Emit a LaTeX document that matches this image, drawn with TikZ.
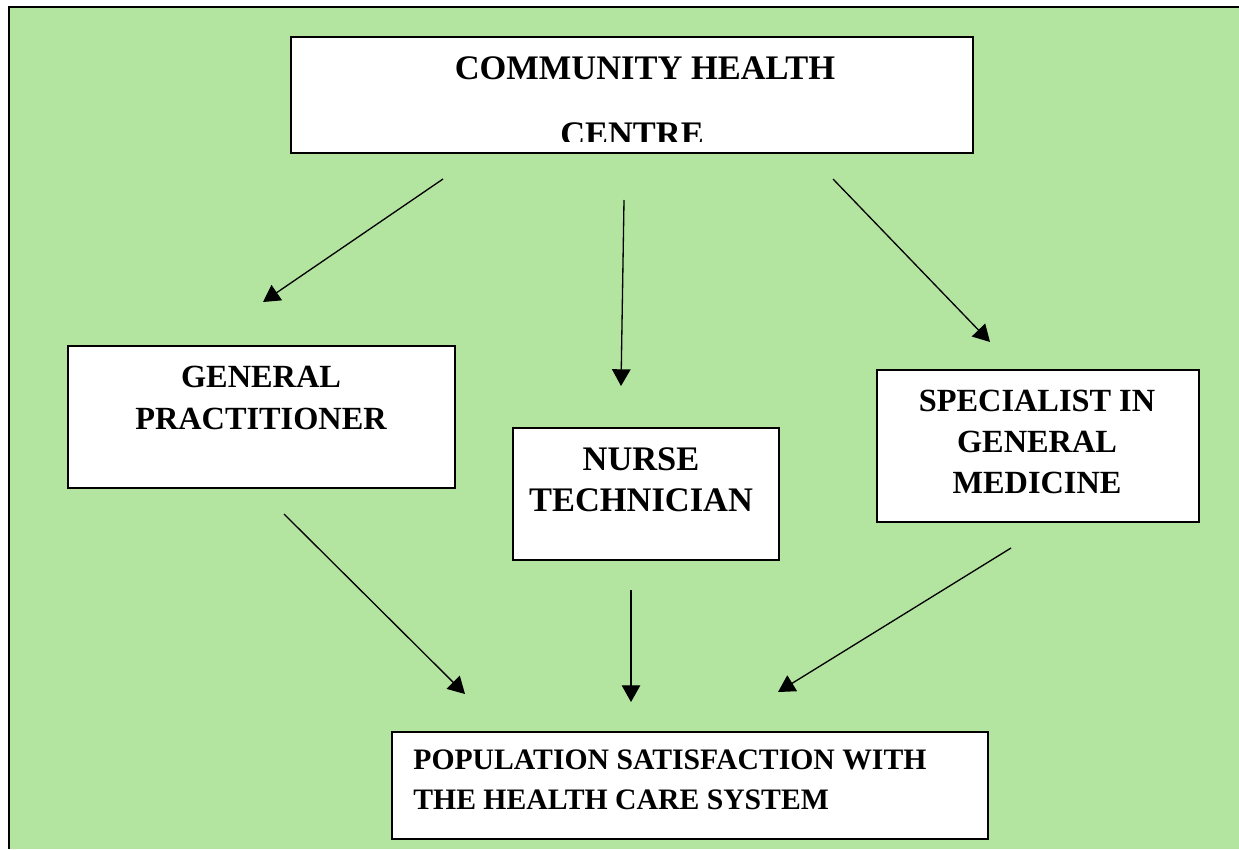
\documentclass[tikz,border=0pt]{standalone}
\usepackage{fontspec}
\setmainfont{Liberation Serif}
\usetikzlibrary{arrows.meta}
\definecolor{bggreen}{RGB}{180,229,160}
\tikzset{
  box/.style={draw, line width=0.9pt, fill=white, inner sep=0pt},
  lbl/.style={inner sep=0pt, align=center, font=\fontsize{18.4}{23.5}\selectfont\bfseries},
  biglbl/.style={lbl, font=\fontsize{19.6}{23.5}\selectfont\bfseries},
  smalllbl/.style={lbl, font=\fontsize{16.9}{23}\selectfont\bfseries},
  arr/.style={-{Triangle[length=9.5pt,width=10.5pt]}, line width=0.75pt}
}
\begin{document}
\begin{tikzpicture}[x=0.02cm,y=-0.02cm]
        % Canvas
        \useasboundingbox (0,0) rectangle (1239,849);
        \fill[bggreen] (9,7) rectangle (1239,849);
        \draw[line width=1.2pt] (9,849) -- (9,7) -- (1239,7);
        % Draw the boxes
        \node[box, minimum width=13.64cm, minimum height=2.32cm] (chc) at (632,95) {};
        \node[box, minimum width=7.74cm, minimum height=2.84cm] (gp) at (261.5,417) {};
        \node[box, minimum width=5.32cm, minimum height=2.64cm] (nurse) at (646,494) {};
        \node[box, minimum width=6.44cm, minimum height=3.04cm] (spec) at (1038,446) {};
        \node[box, minimum width=11.92cm, minimum height=2.14cm] (pop) at (690,785.5) {};
        % Label the boxes
        \node[biglbl] (chctop) at (645,68) {COMMUNITY HEALTH};
        \begin{scope}
          \clip (291,37) rectangle (973,141);
          \node[biglbl] (chcbot) at (632,134.5) {CENTRE};
        \end{scope}
        \node[lbl] (gptext) at (261,398) {GENERAL\\PRACTITIONER};
        \node[biglbl] (nursetext) at (641,480) {NURSE\\TECHNICIAN};
        \node[lbl] (spectext) at (1037,442) {SPECIALIST IN\\GENERAL\\MEDICINE};
        \node[smalllbl, align=left, anchor=west] (poptext) at (413,780) {POPULATION SATISFACTION WITH\\THE HEALTH CARE SYSTEM};
        % Arrow ends
        \coordinate (a1) at (443,179);  \coordinate (b1) at (263,302);
        \coordinate (a2) at (624,200);  \coordinate (b2) at (621,386);
        \coordinate (a3) at (833,179);  \coordinate (b3) at (990,342);
        \coordinate (a4) at (284,514);  \coordinate (b4) at (465,694);
        \coordinate (a5) at (631,590);  \coordinate (b5) at (631,702);
        \coordinate (a6) at (1011,548); \coordinate (b6) at (778,692);
        % Draw the arrows
        \foreach \i in {1,...,6}
          \draw[arr] (a\i) -- (b\i);
\end{tikzpicture}
\end{document}
